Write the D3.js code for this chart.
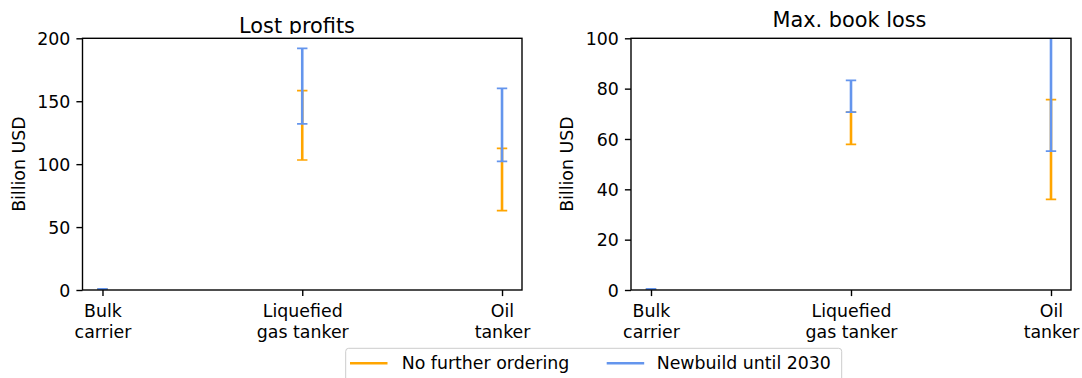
<!DOCTYPE html>
<html><head><meta charset="utf-8">
<script src="https://cdn.jsdelivr.net/npm/d3@7"></script>
<style>
body{margin:0;background:#fff}
svg{display:block}
text{font-family:"DejaVu Sans",sans-serif;fill:#000}
</style>
</head><body>
<svg id="c" width="1082" height="378"></svg>
<script>
// ---- data ----
const categories = ["Bulk\ncarrier", "Liquefied\ngas tanker", "Oil\ntanker"];
const seriesNames = ["No further ordering", "Newbuild until 2030"];
const seriesColors = ["#FFA500", "#6495ED"];

const lostNoOrderLow  = [0, 103.3, 63];
const lostNoOrderHigh = [0.8, 158.4, 112.6];
const lostNewLow      = [0, 132, 102.3];
const lostNewHigh     = [0.9, 192, 160.3];

const bookNoOrderLow  = [0, 57.9, 36];
const bookNoOrderHigh = [0.4, 70.7, 75.6];
const bookNewLow      = [0, 70.7, 55.2];
const bookNewHigh     = [0.45, 83.3, 104];

const lostTicks = [0, 50, 100, 150, 200];
const bookTicks = [0, 20, 40, 60, 80, 100];

// ---- drawing ----
const svg = d3.select("#c");
const FS = 17.36, TFS = 20.83;
const TICK = 6.1, PAD = 6.1;

function panel(cfg, idx) {
  const x = d3.scalePoint().domain(categories).range([cfg.x0, cfg.x1]).padding(0.1);
  const y = d3.scaleLinear().domain(cfg.domain).range([cfg.y1, cfg.y0]);
  const g = svg.append("g");

  const clipId = "clip" + idx;
  svg.append("clipPath").attr("id", clipId).append("rect")
    .attr("x", cfg.x0).attr("y", cfg.y0).attr("width", cfg.x1 - cfg.x0).attr("height", cfg.y1 - cfg.y0);

  // error bars
  const eb = g.append("g").attr("clip-path", `url(#${clipId})`);
  cfg.series.forEach((s, si) => {
    const col = seriesColors[si];
    const sg = eb.append("g");
    categories.forEach((c, i) => {
      const cx = x(c), ylo = y(s.low[i]), yhi = y(s.high[i]);
      sg.append("line").attr("x1", cx).attr("x2", cx).attr("y1", ylo).attr("y2", yhi)
        .attr("stroke", col).attr("stroke-width", 2.6);
      [ylo, yhi].forEach(yy => {
        sg.append("line").attr("x1", cx - 5.2).attr("x2", cx + 5.2).attr("y1", yy).attr("y2", yy)
          .attr("stroke", col).attr("stroke-width", 1.74);
      });
    });
  });

  // y axis
  const ya = g.append("g").attr("transform", `translate(${cfg.x0},0)`)
    .call(d3.axisLeft(y).tickValues(cfg.ticks).tickSize(TICK).tickPadding(PAD).tickSizeOuter(0));
  ya.select(".domain").remove();
  ya.selectAll("line").attr("stroke", "#000").attr("stroke-width", 1.39);
  ya.selectAll("text").attr("font-size", FS).attr("font-family", "DejaVu Sans").attr("fill", "#000").attr("dy", "0.36em");

  // x axis
  const xa = g.append("g").attr("transform", `translate(0,${cfg.y1})`)
    .call(d3.axisBottom(x).tickSize(TICK).tickPadding(PAD).tickSizeOuter(0));
  xa.select(".domain").remove();
  xa.selectAll("line").attr("stroke", "#000").attr("stroke-width", 1.39);
  xa.selectAll("text").each(function (d) {
    const t = d3.select(this);
    t.text(null).attr("dy", null).attr("y", 0).attr("font-size", FS)
      .attr("font-family", "DejaVu Sans").attr("fill", "#000");
    d.split("\n").forEach((ln, k) => {
      t.append("tspan").attr("x", 0).attr("y", 26.7 + k * 20.8).text(ln);
    });
  });

  // frame
  g.append("rect").attr("x", cfg.x0).attr("y", cfg.y0)
    .attr("width", cfg.x1 - cfg.x0).attr("height", cfg.y1 - cfg.y0)
    .attr("fill", "none").attr("stroke", "#000").attr("stroke-width", 1.39);

  // y label
  g.append("text").attr("transform", `translate(${cfg.ylabX},${(cfg.y0 + cfg.y1) / 2}) rotate(-90)`)
    .attr("text-anchor", "middle").attr("dy", "0.36em").attr("font-size", FS).text("Billion USD");

  // title
  const tclip = "tclip" + idx;
  svg.append("clipPath").attr("id", tclip).append("rect")
    .attr("x", 0).attr("y", 0).attr("width", 1082).attr("height", cfg.titleClip);
  g.append("text").attr("x", cfg.titleX).attr("y", cfg.titleY)
    .attr("clip-path", `url(#${tclip})`)
    .attr("text-anchor", "middle").attr("font-size", TFS).text(cfg.title);
}

panel({
  x0: 82.5, x1: 522, y0: 38.3, y1: 290, domain: [0, 200], ticks: lostTicks,
  ylabX: 18.5, title: "Lost profits", titleX: 297, titleY: 33, titleClip: 34,
  series: [{ low: lostNoOrderLow, high: lostNoOrderHigh }, { low: lostNewLow, high: lostNewHigh }]
}, 0);

panel({
  x0: 631, x1: 1071, y0: 38.3, y1: 290, domain: [0, 100], ticks: bookTicks,
  ylabX: 567, title: "Max. book loss", titleX: 849.5, titleY: 27, titleClip: 400,
  series: [{ low: bookNoOrderLow, high: bookNoOrderHigh }, { low: bookNewLow, high: bookNewHigh }]
}, 1);

// legend
const lg = svg.append("g");
lg.append("rect").attr("x", 345.7).attr("y", 348.3).attr("width", 496).attr("height", 42).attr("rx", 3)
  .attr("fill", "#fff").attr("fill-opacity", 0.8).attr("stroke", "#cccccc").attr("stroke-width", 1);
const legItems = [
  { name: seriesNames[0], color: seriesColors[0], lx: 350, tx: 401.7 },
  { name: seriesNames[1], color: seriesColors[1], lx: 606.7, tx: 656.7 }
];
legItems.forEach(it => {
  lg.append("line").attr("x1", it.lx).attr("x2", it.lx + 37.5).attr("y1", 363.3).attr("y2", 363.3)
    .attr("stroke", it.color).attr("stroke-width", 2.6);
  lg.append("text").attr("x", it.tx).attr("y", 369.3).attr("font-size", FS).text(it.name);
});
</script>
</body></html>
